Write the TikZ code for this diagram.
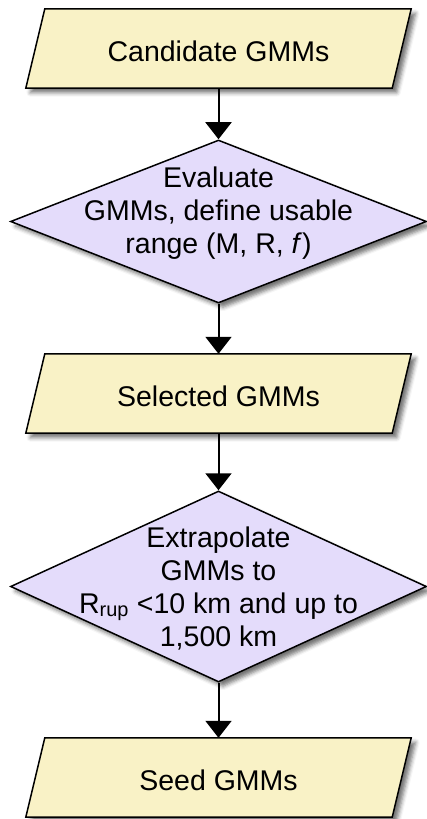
\documentclass[tikz,border=0pt]{standalone}
\usepackage{fontspec}
\setmainfont{Liberation Sans}
\usetikzlibrary{arrows.meta,shapes.geometric,shadows.blur}
\definecolor{ioyellow}{HTML}{F9F2C6}
\definecolor{declilac}{HTML}{E4DCFB}
\pgfdeclarelayer{background}
\pgfsetlayers{background,main}
\tikzset{
  softshadow/.style={blur shadow={shadow xshift=4.5pt, shadow yshift=-4.5pt,
      shadow blur radius=4pt, shadow opacity=55}},
  iobox/.style={rectangle, inner sep=0pt, minimum width=385pt, minimum height=79pt,
      text height=25pt, text depth=0pt, font=\fontsize{28.5}{33}\selectfont},
  iopara/.style={draw=black, line width=1.5pt, fill=ioyellow, line join=miter, softshadow},
  decision/.style={diamond, draw=black, line width=1.5pt, fill=declilac,
      inner sep=0pt, minimum width=416pt, softshadow},
  decisiontext/.style={align=center, font=\fontsize{28.5}{33}\selectfont},
  flow/.style={draw=black, line width=2pt, -{Triangle[length=17pt,width=26pt]}}
}
\begin{document}
\begin{tikzpicture}[x=1pt,y=-1pt]
\useasboundingbox (0,0) rectangle (427,819);

% input/output boxes (parallelograms drawn on the background layer)
\node[iobox] (cand) at (218.5,48.5) {Candidate GMMs};
\node[iobox] (sel)  at (218.5,393.5) {Selected GMMs};
\node[iobox] (seed) at (218.5,777.5) {Seed GMMs};

% decision diamonds and their labels
\node[decision, minimum height=163pt] (eval) at (218.5,221.5) {};
\node[decisiontext] (evaltext) at (218.5,213)
  {Evaluate\\GMMs, define usable\\range (M, R, \textit{f})};
\node[decision, minimum height=191pt] (extr) at (218.5,586.5) {};
\node[decisiontext] (extrtext) at (218.5,588)
  {Extrapolate\\GMMs to\\R\textsubscript{rup} <10 km and up to\\1,500 km};

\begin{pgfonlayer}{background}
  \foreach \n in {cand,sel,seed}
    \draw[iopara] ([xshift=19pt]\n.north west) -- (\n.north east)
      -- ([xshift=-19pt]\n.south east) -- (\n.south west) -- cycle;
\end{pgfonlayer}

% flow connectors
\draw[flow] (cand) -- (eval);
\draw[flow] (eval) -- (sel);
\draw[flow] (sel) -- (extr);
\draw[flow] (extr) -- (seed);
\end{tikzpicture}
\end{document}
